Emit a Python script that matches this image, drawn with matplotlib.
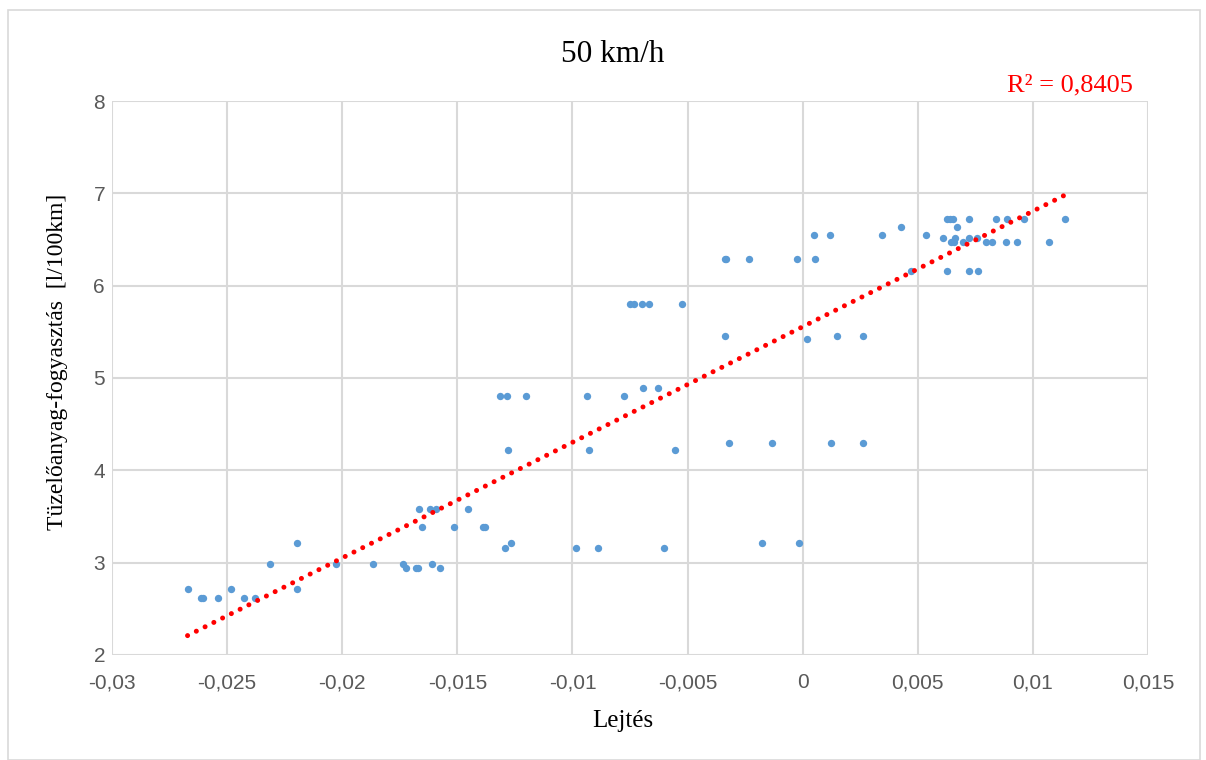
import numpy as np
import matplotlib
matplotlib.use("Agg")
import matplotlib.pyplot as plt
from matplotlib.patches import Rectangle

# ---- data ----
lejtes = [
    -0.02672, -0.02615, -0.02605, -0.02538, -0.02484, -0.02425, -0.02380, -0.02312,
    -0.02196, -0.02196, -0.02029, -0.01867, -0.01737, -0.01722, -0.01680, -0.01670,
    -0.01612, -0.01574, -0.01668, -0.01618, -0.01591, -0.01654, -0.01516, -0.01452,
    -0.01389, -0.01380, -0.01316, -0.01286, -0.01203, -0.00937, -0.01279, -0.00930,
    -0.01293, -0.01265, -0.00986, -0.00891, -0.00776, -0.00693, -0.00630, -0.00556,
    -0.00320, -0.00134, 0.00122, 0.00260, -0.00602, -0.00176, -0.00017,
    -0.00751, -0.00734, -0.00699, -0.00667, -0.00525, -0.00339, 0.00020, 0.00150,
    0.00260, -0.00339, -0.00334, -0.00233, -0.00025, 0.00053, 0.00049, 0.00117,
    0.00343, 0.00426, 0.00536, 0.00469, 0.00626, 0.00724, 0.00762, 0.00611,
    0.00626, 0.00640, 0.00655, 0.00722, 0.00672, 0.00643, 0.00657, 0.00660,
    0.00696, 0.00722, 0.00757, 0.00797, 0.00823, 0.00839, 0.00883, 0.00888,
    0.00930, 0.00961, 0.01072, 0.01139,
]
fogyasztas = [
    2.715, 2.621, 2.621, 2.621, 2.715, 2.621, 2.621, 2.986,
    3.216, 2.715, 2.986, 2.986, 2.986, 2.946, 2.946, 2.946,
    2.986, 2.946, 3.578, 3.578, 3.578, 3.390, 3.390, 3.578,
    3.390, 3.390, 4.804, 4.804, 4.804, 4.804, 4.223, 4.223,
    3.162, 3.213, 3.162, 3.162, 4.804, 4.887, 4.887, 4.223,
    4.295, 4.295, 4.295, 4.295, 3.162, 3.216, 3.216,
    5.803, 5.803, 5.803, 5.803, 5.803, 5.450, 5.418, 5.450,
    5.450, 6.290, 6.290, 6.290, 6.290, 6.290, 6.550, 6.550,
    6.550, 6.636, 6.550, 6.157, 6.157, 6.157, 6.157, 6.517,
    6.727, 6.727, 6.727, 6.727, 6.636, 6.478, 6.478, 6.517,
    6.478, 6.517, 6.517, 6.478, 6.478, 6.727, 6.478, 6.727,
    6.478, 6.727, 6.478, 6.727,
]
# linear trendline (slope, intercept)
trend_slope = 125.2
trend_intercept = 5.555

x_ticks = [-0.03, -0.025, -0.02, -0.015, -0.01, -0.005, 0, 0.005, 0.01, 0.015]
x_tick_labels = ["-0,03", "-0,025", "-0,02", "-0,015", "-0,01", "-0,005", "0", "0,005", "0,01", "0,015"]
y_ticks = [2, 3, 4, 5, 6, 7, 8]
title = "50 km/h"
r2_text = "R² = 0,8405"
x_label = "Lejtés"
y_label = "Tüzelőanyag-fogyasztás  [l/100km]"

x = np.array(lejtes)
y = np.array(fogyasztas)

fig = plt.figure(figsize=(12.06, 7.6), dpi=100)
ax = fig.add_axes([0.0929, 0.1382, 0.8590, 0.7289])

# chart border
fig.patches.append(Rectangle((8 / 1206, 0.0), 1 - 14 / 1206, 1 - 10 / 760, transform=fig.transFigure,
                             fill=False, edgecolor="#D9D9D9", linewidth=1.2))

ax.scatter(x, y, s=28, color="#5B9BD5", zorder=3, linewidths=0)

xt = np.array([x.min(), x.max()])
ax.plot(xt, trend_slope * xt + trend_intercept, color="#FF0000", linewidth=3.6,
        linestyle=(0, (0.01, 1.95)), dash_capstyle="round", zorder=4)

ax.set_xlim(-0.03, 0.015)
ax.set_ylim(2, 8)
ax.set_xticks(x_ticks)
ax.set_xticklabels(x_tick_labels)
ax.set_yticks(y_ticks)
ax.grid(True, color="#D9D9D9", linewidth=1.5, zorder=0)
ax.set_axisbelow(True)
for s in ax.spines.values():
    s.set_visible(False)
ax.tick_params(length=0, labelsize=15, labelcolor="#595959")
ax.tick_params(axis="x", pad=13)
ax.tick_params(axis="y", pad=5)
for lab in ax.get_xticklabels() + ax.get_yticklabels():
    lab.set_fontfamily("Liberation Sans")

fig.text(0.508, 1 - 61.5 / 760, title, ha="center", va="baseline", fontsize=22.5,
         family="Liberation Serif", color="black")
fig.text(1133 / 1206, 1 - 91 / 760, r2_text, ha="right", va="baseline",
         fontsize=19, family="Liberation Serif", color="#FF0000")
fig.text(0.5165, 1 - 727 / 760, x_label, ha="center", va="baseline", fontsize=18,
         family="Liberation Serif")
fig.text(58 / 1206, 1 - 362 / 760, y_label, ha="center", va="center", rotation=90,
         fontsize=17, family="Liberation Serif")

fig.savefig("out.png", dpi=100)
